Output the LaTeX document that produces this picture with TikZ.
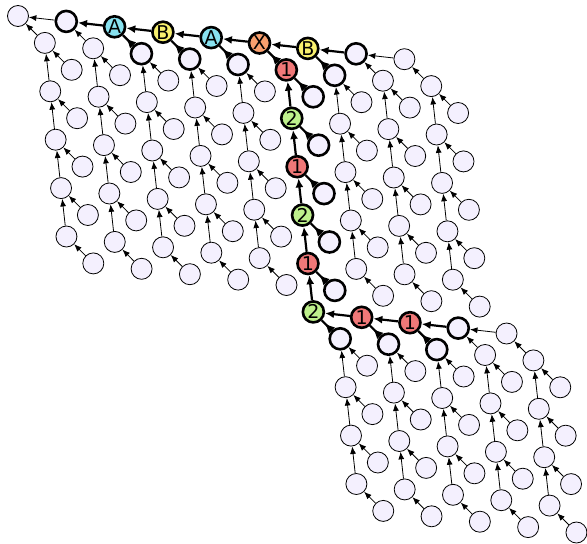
\documentclass[tikz,border=0pt]{standalone}
\usepackage{fontspec}
\setmainfont{DejaVu Sans}
\usetikzlibrary{arrows.meta}
\definecolor{vfill}{RGB}{244,240,254}
\definecolor{acol}{RGB}{136,226,240}
\definecolor{bcol}{RGB}{248,240,110}
\definecolor{xcol}{RGB}{249,160,110}
\definecolor{onecol}{RGB}{240,120,120}
\definecolor{twocol}{RGB}{190,240,140}
\tikzset{
  vtx/.style={circle,draw,fill=vfill,line width=0.8pt,minimum size=21pt,inner sep=0pt,font=\fontsize{19}{19}\selectfont},
  hot/.style={vtx,line width=2.6pt},
  lnk/.style={-{Latex[length=7.5pt,width=6pt]},line width=0.8pt},
  boldlnk/.style={-{Latex[length=9pt,width=8pt]},line width=2.2pt},
  wedge/.style={{Latex[reversed,length=10pt,width=9pt]}-,line width=2.2pt}
}
\begin{document}
\begin{tikzpicture}[x={(48.3pt,-5.4pt)},y={(5.4pt,-48.4pt)}]
\useasboundingbox (-18pt,16pt) rectangle (569pt,-528pt);

\node[vtx] (t0) at (0,0) {};
\node[hot] (t1) at (1,0) {};
\node[hot,fill=acol] (t2) at (2,0) {A};
\node[hot,fill=bcol] (t3) at (3,0) {B};
\node[hot,fill=acol] (t4) at (4,0) {A};
\node[hot,fill=xcol] (t5) at (5,0) {X};
\node[hot,fill=bcol] (t6) at (6,0) {B};
\node[hot] (t7) at (7,0) {};
\node[vtx] (t8) at (8,0) {};

\foreach \i/\s in {0/vtx,1/vtx,2/hot,3/hot,4/hot,6/hot,7/vtx,8/vtx}
  \node[\s] (c\i-0) at (\i+0.5,0.5) {};
\foreach \i in {0,1,2,3,4,6,7,8}{
  \foreach \j in {1,...,4}
    \node[vtx] (c\i-\j) at (\i+0.5,\j+0.5) {};
  \foreach \j in {0,...,4}
    \node[vtx] (l\i-\j) at (\i+1,\j+1) {};
}

\foreach \k/\n/\c in {0/1/onecol,1/2/twocol,2/1/onecol,3/2/twocol,4/1/onecol,5/2/twocol}
  \node[hot,fill=\c] (c5-\k) at (5.5,\k+0.5) {\n};
\foreach \k in {0,...,4}
  \node[hot] (l5-\k) at (6,\k+1) {};

\node[hot,fill=onecol] (b1) at (6.5,5.5) {1};
\node[hot,fill=onecol] (b2) at (7.5,5.5) {1};
\node[hot] (b3) at (8.5,5.5) {};
\node[vtx] (b4) at (9.5,5.5) {};

\foreach \m/\s in {0/hot,1/hot,2/hot,3/vtx,4/vtx}
  \node[\s] (d\m-0) at (\m+6,6) {};
\foreach \m in {0,...,4}{
  \foreach \j in {1,2,3}
    \node[vtx] (d\m-\j) at (\m+6,\j+6) {};
  \foreach \j in {0,...,3}
    \node[vtx] (e\m-\j) at (\m+6.5,\j+6.5) {};
}

\foreach \a/\b in {t2/t1,t3/t2,t4/t3,t5/t4,t6/t5,t7/t6,b1/c5-5,b2/b1,b3/b2}
  \draw[boldlnk] (\a) -- (\b);
\foreach \j [count=\q from 1] in {0,...,4}
  \draw[boldlnk] (c5-\q) -- (c5-\j);
\foreach \a/\b in {c2-0/t2,c3-0/t3,c4-0/t4,c5-0/t5,c6-0/t6,d0-0/c5-5,d1-0/b1,d2-0/b2}
  \draw[wedge] (\a) -- (\b);
\foreach \k in {0,...,4}
  \draw[wedge] (l5-\k) -- (c5-\k);

\foreach \a/\b in {t1/t0,t8/t7,c0-0/t0,c1-0/t1,c7-0/t7,c8-0/t8,b4/b3,d3-0/b3,d4-0/b4}
  \draw[lnk] (\a) -- (\b);
\foreach \i in {0,1,2,3,4,6,7,8}{
  \foreach \j [count=\q from 1] in {0,...,3}
    \draw[lnk] (c\i-\q) -- (c\i-\j);
  \foreach \j in {0,...,4}
    \draw[lnk] (l\i-\j) -- (c\i-\j);
}
\foreach \m in {0,...,4}{
  \foreach \j [count=\q from 1] in {0,1,2}
    \draw[lnk] (d\m-\q) -- (d\m-\j);
  \foreach \j in {0,...,3}
    \draw[lnk] (e\m-\j) -- (d\m-\j);
}
\end{tikzpicture}
\end{document}
